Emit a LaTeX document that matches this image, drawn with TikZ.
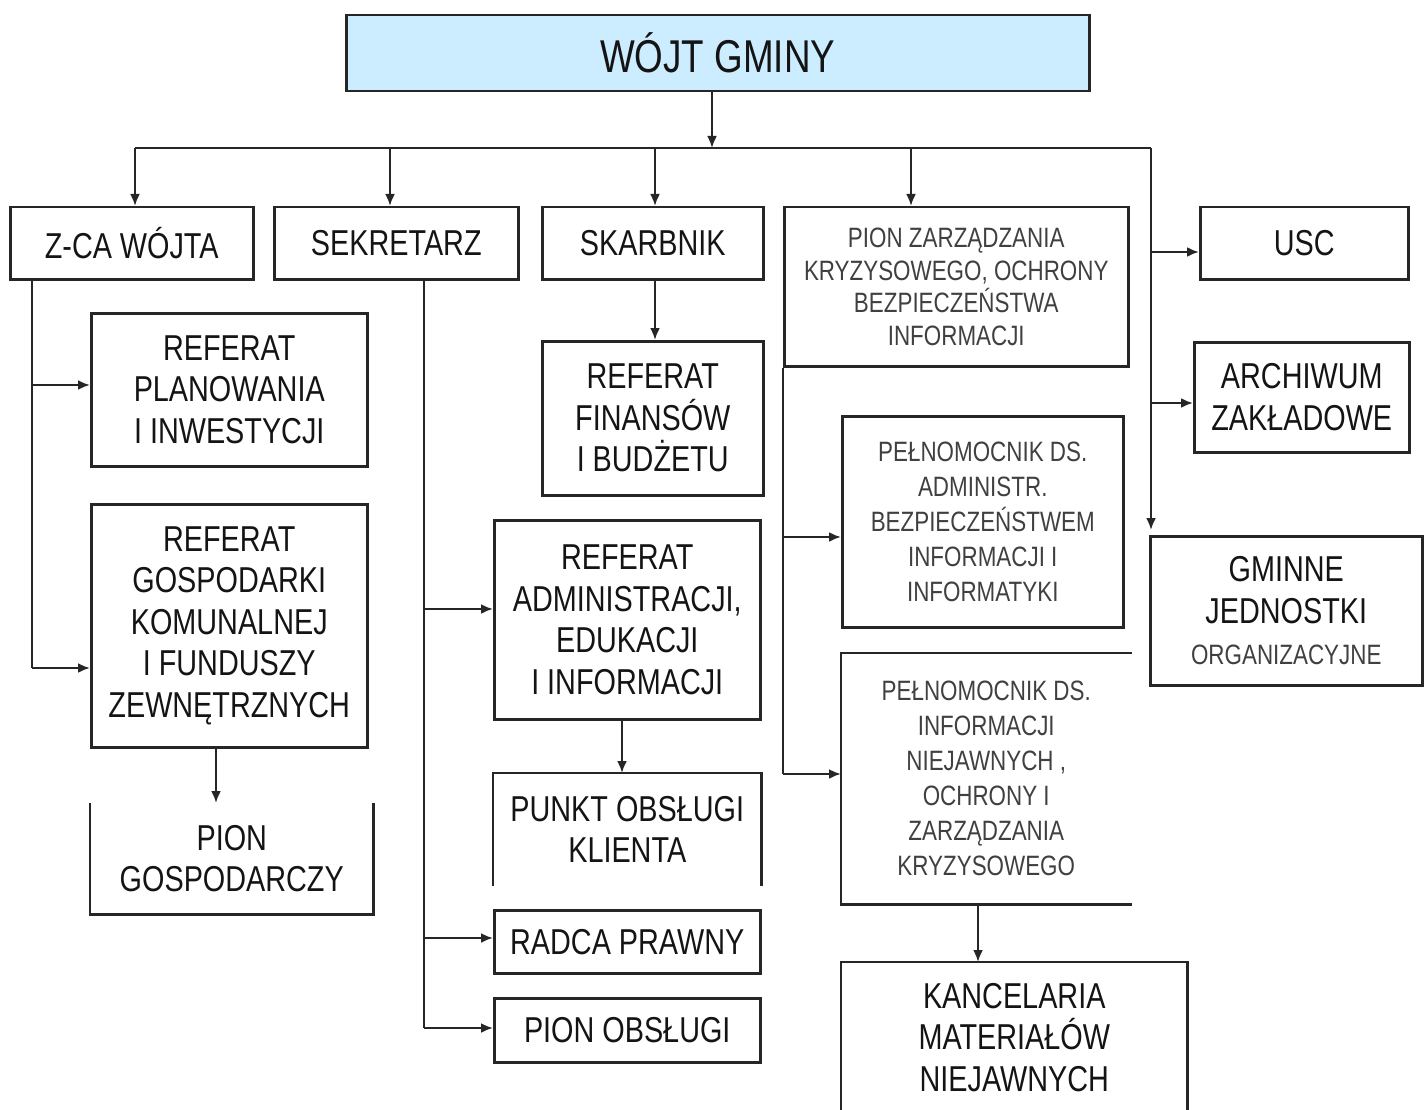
\documentclass[tikz,border=0pt]{standalone}
\usepackage{fontspec}
\newfontfamily\nf[FakeStretch=0.8]{Liberation Sans}
\usetikzlibrary{arrows.meta}
\definecolor{headblue}{HTML}{CCECFF}
\tikzset{
  box/.style={draw=black!85, line width=2.5pt, align=center, text=black!92, inner sep=0pt, anchor=north west,
    font=\nf\fontsize{36}{41.5}\selectfont},
  openbox/.style={box, draw=none},
  smalltext/.style={font=\nf\fontsize{28}{35}\selectfont, text=black!75},
  conn/.style={line width=2.3pt, draw=black!85},
  arr/.style={conn, -{Latex[length=12pt,width=10pt]}},
}
\begin{document}
\begin{tikzpicture}[x=1pt,y=-1pt]
\useasboundingbox (0,0) rectangle (1424,1110);
% head
\node[box, fill=headblue, minimum width=743pt, minimum height=76pt, font=\nf\fontsize{46}{50}\selectfont] (wojt) at (345,14) {WÓJT GMINY};
% top row
\node[box, minimum width=243pt, minimum height=72pt] (zca) at (9,206) {Z-CA WÓJTA};
\node[box, minimum width=244pt, minimum height=72pt] (sek) at (273,206) {SEKRETARZ};
\node[box, minimum width=221pt, minimum height=72pt] (skarb) at (541,206) {SKARBNIK};
\node[box, smalltext, minimum width=344pt, minimum height=159pt, font=\nf\fontsize{28}{32.5}\selectfont] (pz) at (783,206) {PION ZARZĄDZANIA\\KRYZYSOWEGO, OCHRONY\\BEZPIECZEŃSTWA\\INFORMACJI};
\node[box, minimum width=208pt, minimum height=72pt] (usc) at (1199,206) {USC};
\node[box, minimum width=215pt, minimum height=110pt] (arch) at (1193,341) {ARCHIWUM\\ZAKŁADOWE};
\node[box, minimum width=272pt, minimum height=149pt] (gmin) at (1149,535) {GMINNE\\JEDNOSTKI\\{\nf\fontsize{28}{30}\selectfont\color{black!75}ORGANIZACYJNE}};
% left column
\node[box, minimum width=276pt, minimum height=153pt] (plan) at (90,312) {REFERAT\\PLANOWANIA\\I INWESTYCJI};
\node[box, minimum width=276pt, minimum height=243pt] (gosp) at (90,503) {REFERAT\\GOSPODARKI\\KOMUNALNEJ\\I FUNDUSZY\\ZEWNĘTRZNYCH};
\node[openbox, minimum width=281pt, minimum height=109pt] (piong) at (90,803) {PION\\GOSPODARCZY};
\draw[conn] (piong.north west) -- (piong.south west) -- (piong.south east) -- (piong.north east);
% middle column
\node[box, minimum width=221pt, minimum height=154pt] (fin) at (541,340) {REFERAT\\FINANSÓW\\I BUDŻETU};
\node[box, minimum width=266pt, minimum height=199pt] (adm) at (493,519) {REFERAT\\ADMINISTRACJI,\\EDUKACJI\\I INFORMACJI};
\node[openbox, minimum width=266pt, minimum height=110pt] (punkt) at (493,773) {PUNKT OBSŁUGI\\KLIENTA};
\draw[conn] (punkt.south west) -- (punkt.north west) -- (punkt.north east) -- (punkt.south east);
\node[box, minimum width=266pt, minimum height=63pt] (radca) at (493,909) {RADCA PRAWNY};
\node[box, minimum width=266pt, minimum height=64pt] (pionobs) at (493,997) {PION OBSŁUGI};
% right-middle column
\node[box, smalltext, minimum width=281pt, minimum height=211pt] (peln1) at (841,415) {PEŁNOMOCNIK DS.\\ADMINISTR.\\BEZPIECZEŃSTWEM\\INFORMACJI I\\INFORMATYKI};
\node[openbox, smalltext, minimum width=288pt, minimum height=249pt] (peln2) at (841,653) {PEŁNOMOCNIK DS.\\INFORMACJI\\NIEJAWNYCH ,\\OCHRONY I\\ZARZĄDZANIA\\KRYZYSOWEGO};
\draw[conn] (peln2.north east) -- (peln2.north west) -- (peln2.south west) -- (peln2.south east);
\node[openbox, minimum width=344pt, minimum height=148pt] (kanc) at (841,962) {KANCELARIA\\MATERIAŁÓW\\NIEJAWNYCH};
\draw[conn] (kanc.south west) -- (kanc.north west) -- (kanc.north east) -- (kanc.south east);
% connectors: top bus
\coordinate (busL) at (135,148);
\coordinate (busR) at (1151,148);
\draw[arr] (wojt.south -| 712,0) -- (712,148);
\draw[conn] (busL) -- (busR);
\draw[arr] (busL) -- (zca.north -| busL);
\draw[arr] (390,148) -- (sek.north -| 390,0);
\draw[arr] (655,148) -- (skarb.north -| 655,0);
\draw[arr] (911,148) -- (pz.north -| 911,0);
% right trunk
\draw[arr] (busR) -- (1151,530);
\draw[arr] (1151,252) -- (usc.west |- 0,252);
\draw[arr] (1151,403) -- (arch.west |- 0,403);
% Z-CA trunk
\coordinate (zT) at (32,668);
\draw[conn] (zca.south -| 32,0) -- (zT);
\draw[arr] (32,385) -- (plan.west |- 0,385);
\draw[arr] (zT) -- (gosp.west |- zT);
\draw[arr] (gosp.south -| 216,0) -- (piong.north -| 216,0);
% SEKRETARZ trunk
\coordinate (sT) at (424,1028);
\draw[conn] (sek.south -| 424,0) -- (sT);
\draw[arr] (424,609) -- (adm.west |- 0,609);
\draw[arr] (424,938) -- (radca.west |- 0,938);
\draw[arr] (sT) -- (pionobs.west |- sT);
\draw[arr] (adm.south -| 622,0) -- (punkt.north -| 622,0);
% SKARBNIK
\draw[arr] (skarb.south -| 655,0) -- (fin.north -| 655,0);
% PION ZARZ trunk
\coordinate (pT) at (783,774);
\draw[conn] (pz.south west) -- (pT);
\draw[arr] (783,537) -- (peln1.west |- 0,537);
\draw[arr] (pT) -- (peln2.west |- pT);
\draw[arr] (peln2.south -| 978,0) -- (kanc.north -| 978,0);
\end{tikzpicture}
\end{document}
